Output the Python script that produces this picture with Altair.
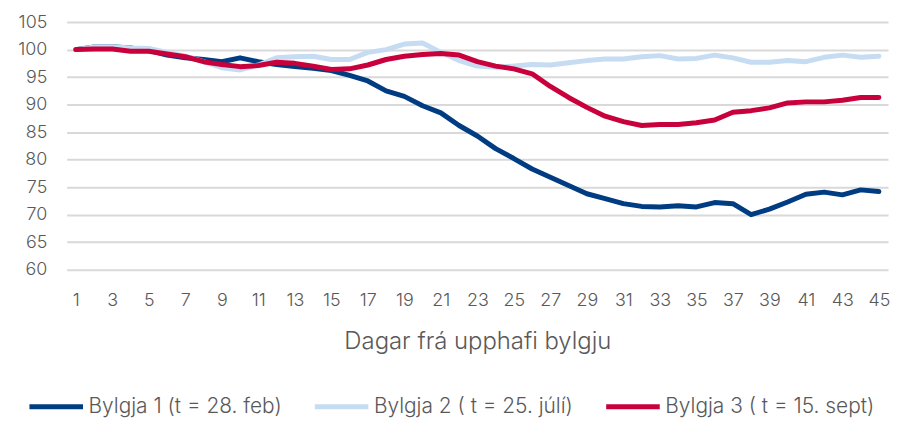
import altair as alt
import pandas as pd

days = list(range(1, 46))

bylgja1 = [100, 100.5, 100.5, 100.3, 99.8, 99.0, 98.5, 98.2, 97.8, 98.5,
           97.8, 97.3, 96.9, 96.6, 96.2, 95.3, 94.3, 92.5, 91.5, 89.8,
           88.5, 86.2, 84.3, 82.0, 80.2, 78.3, 76.8, 75.3, 73.8, 72.9,
           72.0, 71.5, 71.4, 71.6, 71.4, 72.2, 72.0, 70.0, 71.0, 72.3,
           73.7, 74.1, 73.6, 74.5, 74.2]

bylgja2 = [100, 100.5, 100.5, 100.3, 100.2, 99.5, 98.8, 97.8, 96.7, 96.3,
           97.2, 98.5, 98.7, 98.8, 98.2, 98.2, 99.5, 100.0, 101.0, 101.2,
           99.5, 98.0, 97.0, 96.8, 97.0, 97.3, 97.2, 97.6, 98.0, 98.3,
           98.3, 98.7, 98.9, 98.3, 98.4, 99.0, 98.5, 97.7, 97.7, 98.0,
           97.8, 98.6, 99.0, 98.6, 98.8]

bylgja3 = [100, 100.1, 100.1, 99.7, 99.7, 99.2, 98.7, 97.8, 97.3, 96.9,
           97.1, 97.7, 97.5, 97.0, 96.4, 96.5, 97.2, 98.2, 98.8, 99.1,
           99.3, 99.0, 97.8, 97.0, 96.5, 95.6, 93.3, 91.3, 89.5, 87.9,
           86.9, 86.2, 86.4, 86.4, 86.7, 87.2, 88.6, 88.9, 89.4, 90.3,
           90.5, 90.5, 90.8, 91.3, 91.3]

series_names = ["Bylgja 1 (t = 28. feb)", "Bylgja 2 ( t = 25. júlí)", "Bylgja 3 ( t = 15. sept)"]
series_colors = ["#003C82", "#C6DCF3", "#C8003C"]

rows = []
for name, vals in zip(series_names, [bylgja1, bylgja2, bylgja3]):
    for d, v in zip(days, vals):
        rows.append({"Dagur": d, "Gildi": v, "Bylgja": name})
df = pd.DataFrame(rows)

font = "Inter"
gray = "#595959"

chart = alt.Chart(df).mark_line(strokeWidth=5, strokeCap="round", strokeJoin="round").encode(
    x=alt.X("Dagur:Q",
            scale=alt.Scale(domain=[0.5, 45.5], nice=False, zero=False),
            axis=alt.Axis(values=list(range(1, 46, 2)), grid=False, domain=False, ticks=False,
                          labelFontSize=18, labelColor=gray, labelFont=font, labelFontWeight=300,
                          labelPadding=22, title="Dagar frá upphafi bylgju",
                          titleFontSize=24, titleColor=gray, titleFont=font, titleFontWeight=300,
                          titlePadding=20, labelFlush=False)),
    y=alt.Y("Gildi:Q",
            scale=alt.Scale(domain=[60, 105], nice=False, zero=False),
            axis=alt.Axis(values=list(range(60, 106, 5)), grid=True, gridColor="#D9D9D9", gridWidth=2,
                          domain=False, ticks=False, labelFontSize=18, labelColor=gray,
                          labelFont=font, labelFontWeight=300, labelPadding=20, title=None)),
    color=alt.Color("Bylgja:N",
                    scale=alt.Scale(domain=series_names, range=series_colors),
                    legend=alt.Legend(orient="none", legendX=-40, legendY=357,
                                      direction="horizontal", title=None,
                                      symbolType="stroke", symbolStrokeWidth=5, symbolSize=2900,
                                      labelFontSize=21, labelColor=gray, labelFont=font,
                                      labelFontWeight=300, labelOffset=3, columnPadding=22,
                                      labelLimit=400)),
).properties(
    width=826, height=249,
    autosize=alt.AutoSizeParams(type="none"),
    padding={"left": 59, "top": 13, "right": 4, "bottom": 148},
).configure_view(stroke=None)

chart.save("out.html", embed_options={"renderer": "svg", "actions": False})
